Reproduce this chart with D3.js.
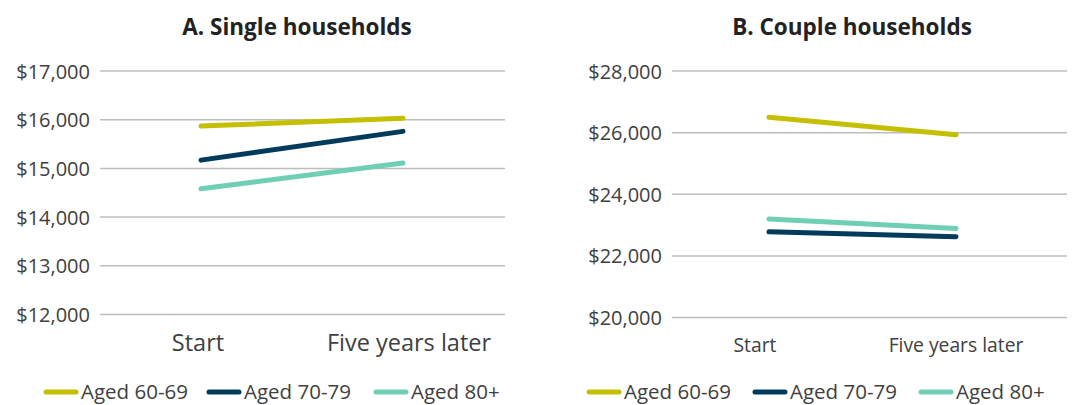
<!DOCTYPE html>
<html>
<head>
<meta charset="utf-8">
<script src="https://cdn.jsdelivr.net/npm/d3@7"></script>
<style>
  html, body { margin: 0; padding: 0; background: #fff; }
  svg { display: block; font-family: "Open Sans", "Noto Sans", sans-serif; }
</style>
</head>
<body>
<svg id="chart" width="1078" height="405"></svg>
<script>
// ---- data ----
const categories = ["Start", "Five years later"];
const seriesNames = ["Aged 60-69", "Aged 70-79", "Aged 80+"];
const seriesColors = ["#c4bf00", "#003b5c", "#6fcfb5"];

const singleTitle = "A. Single households";
const single6069 = [15870, 16030];
const single7079 = [15170, 15760];
const single80 = [14580, 15110];
const singleTicks = [12000, 13000, 14000, 15000, 16000, 17000];

const coupleTitle = "B. Couple households";
const couple6069 = [26500, 25930];
const couple7079 = [22780, 22620];
const couple80 = [23200, 22890];
const coupleTicks = [20000, 22000, 24000, 26000, 28000];

// ---- drawing ----
const svg = d3.select("#chart");
const fmt = v => "$" + d3.format(",")(v);

function drawPanel(cfg) {
  const g = svg.append("g");
  const y = d3.scaleLinear().domain(cfg.domain).range([cfg.bottom, cfg.top]);
  const x = d3.scalePoint().domain(categories).range(cfg.xRange);

  // title
  g.append("text")
    .attr("x", cfg.titleX).attr("y", 26)
    .attr("text-anchor", "middle").attr("dominant-baseline", "central")
    .attr("font-size", 22.5).attr("font-weight", 700).attr("fill", "#222")
    .text(cfg.title);

  // grid
  g.selectAll("line.grid").data(cfg.ticks).join("line")
    .attr("class", "grid")
    .attr("x1", cfg.gridX0).attr("x2", cfg.gridX1)
    .attr("y1", d => y(d)).attr("y2", d => y(d))
    .attr("stroke", "#bdbdbd").attr("stroke-width", 1.5);

  // y labels
  g.selectAll("text.ylab").data(cfg.ticks).join("text")
    .attr("class", "ylab")
    .attr("x", cfg.gridX0 - 10).attr("y", d => y(d))
    .attr("text-anchor", "end").attr("dominant-baseline", "central")
    .attr("font-size", 20).attr("fill", "#404040")
    .text(fmt);

  // x labels
  g.selectAll("text.xlab").data(categories).join("text")
    .attr("class", "xlab")
    .attr("x", (d, i) => x(d) + cfg.xLabOff[i]).attr("y", cfg.xLabY)
    .attr("text-anchor", "middle").attr("dominant-baseline", "central")
    .attr("font-size", cfg.xLabSize).attr("fill", "#404040")
    .text(d => d);

  // lines
  const line = d3.line().x((d, i) => x(categories[i])).y(d => y(d));
  g.selectAll("path.series").data(cfg.series).join("path")
    .attr("class", "series")
    .attr("d", d => line(d))
    .attr("fill", "none")
    .attr("stroke", (d, i) => seriesColors[i])
    .attr("stroke-width", 5)
    .attr("stroke-linecap", "round");

  // legend
  const lg = g.selectAll("g.leg").data(seriesNames).join("g")
    .attr("class", "leg")
    .attr("transform", (d, i) => `translate(${cfg.legX[i]},${cfg.legY})`);
  lg.append("line")
    .attr("x1", 0).attr("x2", 30).attr("y1", 0).attr("y2", 0)
    .attr("stroke", (d, i) => seriesColors[i])
    .attr("stroke-width", 5).attr("stroke-linecap", "round");
  lg.append("text")
    .attr("x", 35).attr("y", 7)
    .attr("font-size", 20.5).attr("fill", "#404040")
    .text(d => d);
}

drawPanel({
  title: singleTitle, titleX: 297,
  domain: [12000, 17000], ticks: singleTicks,
  top: 71, bottom: 314.5,
  gridX0: 100, gridX1: 505,
  xRange: [201, 403], xLabY: 342, xLabSize: 23.5, xLabOff: [-3, 6],
  series: [single6069, single7079, single80],
  legX: [46, 209, 376], legY: 392
});

drawPanel({
  title: coupleTitle, titleX: 852,
  domain: [20000, 28000], ticks: coupleTicks,
  top: 71, bottom: 317.5,
  gridX0: 672, gridX1: 1067,
  xRange: [769, 956], xLabY: 344, xLabSize: 19.3, xLabOff: [-14, 0],
  series: [couple6069, couple7079, couple80],
  legX: [589, 755, 921], legY: 392
});
</script>
</body>
</html>
